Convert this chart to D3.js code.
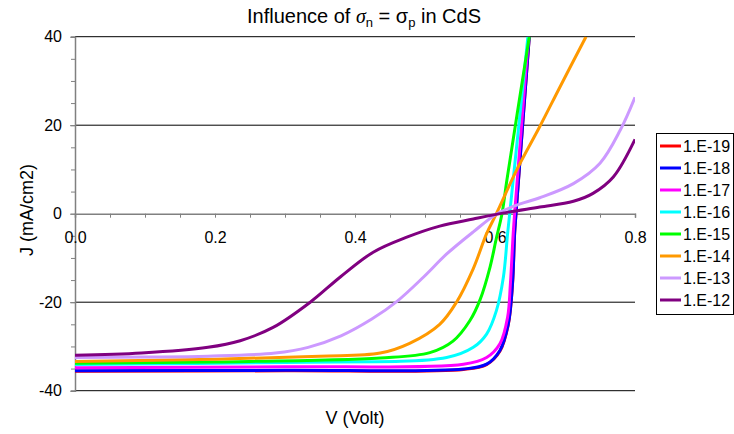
<!DOCTYPE html>
<html>
<head>
<meta charset="utf-8">
<script src="https://cdn.jsdelivr.net/npm/d3@7/dist/d3.min.js"></script>
<style>
  body { margin: 0; background: #fff; }
  text { font-family: Arial, "Liberation Sans", sans-serif; fill: #000; }
</style>
</head>
<body>
<svg id="chart" width="734" height="434"></svg>
<script>
// tick values
const xMajorTicks = [0, 0.2, 0.4, 0.6, 0.8];
const xMinorTicks = [0, 0.05, 0.1, 0.15, 0.2, 0.25, 0.3, 0.35, 0.4, 0.45, 0.5, 0.55, 0.6, 0.65, 0.7, 0.75, 0.8];
const yMajorTicks = [-40, -20, 0, 20, 40];
const yMinorTicks = [-40, -35, -30, -25, -20, -15, -10, -5, 0, 5, 10, 15, 20, 25, 30, 35, 40];
const gridValues = [-40, -20, 20, 40];

// legend / series
const seriesNames = ["1.E-19", "1.E-18", "1.E-17", "1.E-16", "1.E-15", "1.E-14", "1.E-13", "1.E-12"];
const seriesColors = ["#ff0000", "#0000ff", "#ff00ff", "#00ffff", "#00ff00", "#ff9900", "#cc99ff", "#800080"];

// [V, J]
const jvE19 = [[0,-35.6],[0.3,-35.5],[0.555,-35.2],[0.588,-34.1],[0.607,-31.1],[0.619,-25.1],[0.625,-16],[0.628,-4.6],[0.63,0],[0.649,40]];
const jvE18 = [[0,-35.5],[0.3,-35.4],[0.555,-35.1],[0.588,-34],[0.607,-30.9],[0.619,-24.9],[0.625,-15.8],[0.628,-4.5],[0.63,0],[0.649,40]];
const jvE17 = [[0,-34.8],[0.3,-34.6],[0.555,-34],[0.588,-32.5],[0.607,-29.4],[0.618,-23.4],[0.622,-15.8],[0.626,-4.5],[0.628,0],[0.648,40]];
const jvE16 = [[0,-34.1],[0.3,-33.6],[0.531,-32.5],[0.569,-30.2],[0.588,-27.2],[0.602,-21.9],[0.612,-14.3],[0.618,-4.5],[0.621,0],[0.647,40]];
const jvE15 = [[0,-33.8],[0.2,-33.5],[0.436,-32.6],[0.507,-31.4],[0.54,-28.8],[0.564,-24.2],[0.579,-19.3],[0.593,-12],[0.602,-5.5],[0.61,0],[0.617,7.6],[0.649,40]];
const jvE14 = [[0,-33.4],[0.2,-32.9],[0.35,-32.2],[0.436,-31.5],[0.478,-29.3],[0.521,-25],[0.545,-20],[0.569,-12.4],[0.588,-4.5],[0.602,0],[0.631,9.9],[0.664,19.7],[0.693,28.7],[0.73,40]];
const jvE13 = [[0,-32.5],[0.1,-32.4],[0.19,-32.2],[0.286,-31.5],[0.333,-30.2],[0.38,-27.6],[0.424,-23.8],[0.46,-19.8],[0.498,-14.3],[0.531,-9.1],[0.569,-4.1],[0.603,0],[0.636,2.2],[0.664,3.6],[0.712,6.8],[0.75,11.4],[0.779,18.9],[0.8,26.3]];
const jvE12 = [[0,-32],[0.095,-31.5],[0.19,-30.2],[0.236,-28.7],[0.283,-25.7],[0.336,-20],[0.379,-14.3],[0.426,-8.7],[0.474,-5.3],[0.521,-2.8],[0.569,-1.2],[0.617,0.3],[0.664,1.5],[0.712,2.8],[0.74,4.6],[0.769,8.3],[0.8,16.8]];
const seriesData = [jvE19, jvE18, jvE17, jvE16, jvE15, jvE14, jvE13, jvE12];

const svg = d3.select("#chart");

const x = d3.scaleLinear().domain([0, 0.8]).range([75, 635]);
const y = d3.scaleLinear().domain([-40, 40]).range([390.7, 36.7]);

//clip so nothing leaves the plot
svg.append("clipPath").attr("id", "plotClip")
  .append("rect")
  .attr("x", x(0)).attr("y", y(40))
  .attr("width", x(0.8) - x(0)).attr("height", y(-40) - y(40));

//horizontal gridlines
svg.append("g").selectAll("line").data(gridValues).join("line")
  .attr("x1", x(0)).attr("x2", x(0.8))
  .attr("y1", d => y(d)).attr("y2", d => y(d))
  .attr("stroke", "#000").attr("stroke-width", 1);

//y axis: minor ticks, then labelled major ticks
const yMinor = svg.append("g").attr("transform", `translate(${x(0)},0)`)
  .call(d3.axisLeft(y).tickValues(yMinorTicks).tickSize(4).tickFormat(""));
yMinor.select(".domain").attr("stroke", "#808080").attr("stroke-width", 1.5);
yMinor.selectAll(".tick line").attr("stroke", "#808080");

const yMajor = svg.append("g").attr("transform", `translate(${x(0)},0)`)
  .call(d3.axisLeft(y).tickValues(yMajorTicks).tickSize(5).tickPadding(8).tickFormat(d => String(d)));
yMajor.select(".domain").remove();
yMajor.selectAll(".tick line").attr("stroke", "#808080");
yMajor.selectAll("text").style("font-size", "16px").style("font-family", "Arial, 'Liberation Sans', sans-serif").attr("fill", "#000");

//x axis sits at J = 0
const xAxis = svg.append("g").attr("transform", `translate(0,${y(0)})`)
  .call(d3.axisBottom(x).tickValues(xMinorTicks).tickSize(4).tickPadding(14)
    .tickFormat(d => xMajorTicks.some(t => Math.abs(t - d) < 1e-9) ? d3.format(".1f")(d) : ""));
xAxis.select(".domain").attr("stroke", "#808080").attr("stroke-width", 1.5);
xAxis.selectAll(".tick line").attr("stroke", "#808080");
xAxis.selectAll("text").style("font-size", "16px").style("font-family", "Arial, 'Liberation Sans', sans-serif").attr("fill", "#000");

//the curves, smoothed like the spreadsheet does
const line = d3.line()
  .x(d => x(d[0]))
  .y(d => y(d[1]))
  .curve(d3.curveCatmullRom.alpha(0.5));

svg.append("g").attr("clip-path", "url(#plotClip)")
  .selectAll("path").data(seriesData).join("path")
  .attr("d", line)
  .attr("fill", "none")
  .attr("stroke", (d, i) => seriesColors[i])
  .attr("stroke-width", 3)
  .attr("stroke-linejoin", "round");

//title with sigma subscripts
const title = svg.append("text")
  .attr("x", 364).attr("y", 23)
  .attr("text-anchor", "middle")
  .attr("fill", "#000")
  .style("font-size", "20px");
title.append("tspan").attr("fill", "#000").text("Influence of ");
title.append("tspan").attr("fill", "#000").text("σ").style("font-family", "'Liberation Serif', 'DejaVu Serif', serif").style("font-style", "italic");
title.append("tspan").attr("fill", "#000").text("n").attr("dy", 4).style("font-size", "13px");
title.append("tspan").attr("fill", "#000").text(" = σ").attr("dy", -4);
title.append("tspan").attr("fill", "#000").text("p").attr("dy", 4).style("font-size", "13px");
title.append("tspan").attr("fill", "#000").text(" in CdS").attr("dy", -4);

//axis titles
svg.append("text")
  .attr("x", 355).attr("y", 424)
  .attr("text-anchor", "middle")
  .style("font-size", "18px")
  .text("V (Volt)");

svg.append("text")
  .attr("transform", "translate(33,210) rotate(-90)")
  .attr("text-anchor", "middle")
  .style("font-size", "18px")
  .text("J (mA/cm2)");

//legend
const legend = svg.append("g");
legend.append("rect")
  .attr("x", 656.5).attr("y", 133.5)
  .attr("width", 77).attr("height", 181)
  .attr("fill", "#fff").attr("stroke", "#000").attr("stroke-width", 1);

const legendRow = d3.scaleLinear().domain([0, 7]).range([146, 300]);
const items = legend.selectAll("g.item").data(seriesNames).join("g")
  .attr("class", "item")
  .attr("transform", (d, i) => `translate(0,${legendRow(i)})`);
items.append("line")
  .attr("x1", 660).attr("x2", 681)
  .attr("stroke", (d, i) => seriesColors[i])
  .attr("stroke-width", 3);
items.append("text")
  .attr("x", 683).attr("dy", "0.35em")
  .style("font-size", "16px")
  .text(d => d);
</script>
</body>
</html>
